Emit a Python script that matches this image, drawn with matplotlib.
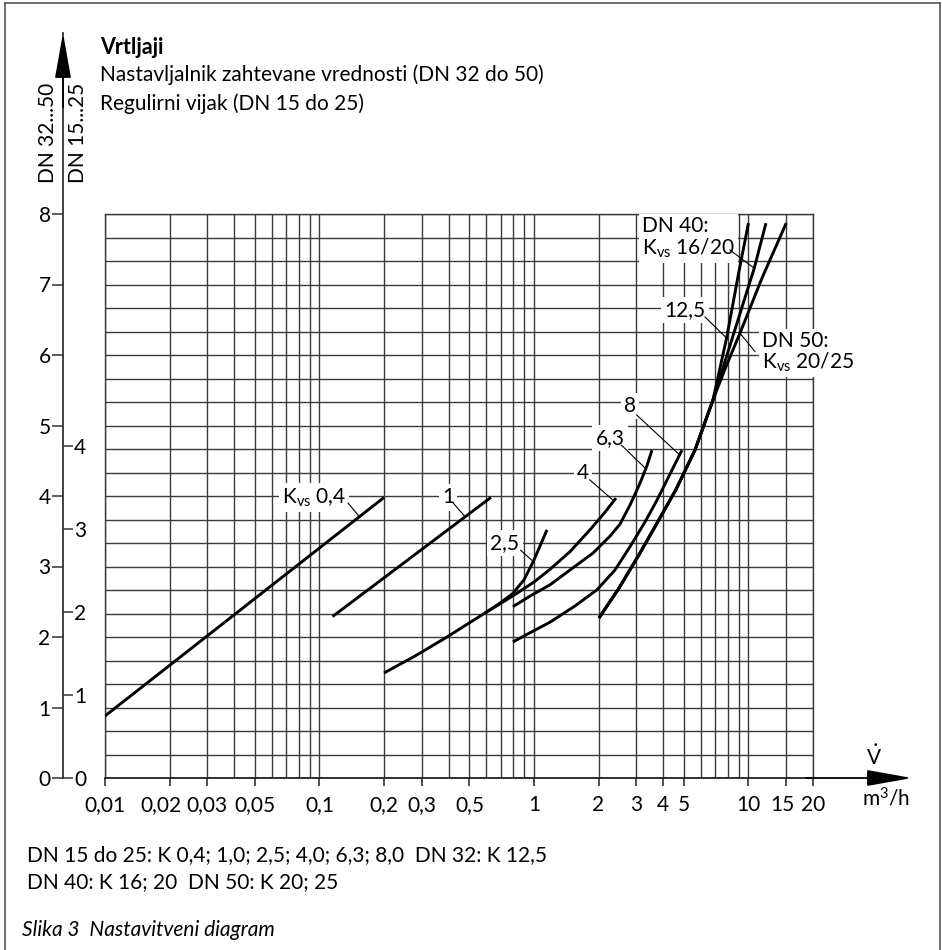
import matplotlib
matplotlib.use('Agg')
import matplotlib.pyplot as plt
from matplotlib.ticker import FixedLocator, NullFormatter
from matplotlib.lines import Line2D
from matplotlib.transforms import ScaledTranslation

plt.rcParams['font.family'] = ['Lato', 'DejaVu Sans']
plt.rcParams['mathtext.default'] = 'regular'

W, H = 942, 950
FS = 15

# x axis: volume flow in m3/h (log)
x_ticks = [0.01, 0.02, 0.03, 0.05, 0.1, 0.2, 0.3, 0.5, 1, 2, 3, 4, 5, 10, 15, 20]
x_ticklabels = ['0,01', '0,02', '0,03', '0,05', '0,1', '0,2', '0,3', '0,5',
                '1', '2', '3', '4', '5', '10', '15', '20']
# left scale DN 32...50 and the DN 15...25 scale next to it
y_ticks = [0, 1, 2, 3, 4, 5, 6, 7, 8]
dn15_ticks = [0, 1.18, 2.35, 3.53, 4.71]
dn15_labels = ['0', '1', '2', '3', '4']

# curves (flow, turns)
q_04 = [0.01, 0.2]
h_04 = [0.88, 3.98]
q_1 = [0.115, 0.63]
h_1 = [2.29, 3.98]
q_25 = [0.2, 0.279, 0.393, 0.591, 0.694, 0.798, 0.898, 0.989, 1.067, 1.15]
h_25 = [1.49, 1.73, 2.0, 2.34, 2.48, 2.62, 2.81, 3.06, 3.29, 3.52]
q_4 = [0.591, 0.694, 0.833, 1.011, 1.188, 1.472, 1.824, 2.143, 2.412]
h_4 = [2.34, 2.47, 2.62, 2.79, 2.96, 3.21, 3.52, 3.77, 3.97]
q_63 = [0.798, 0.958, 1.188, 1.472, 1.884, 2.262, 2.517, 2.803, 3.12, 3.365, 3.549]
h_63 = [2.43, 2.58, 2.74, 2.95, 3.19, 3.43, 3.60, 3.87, 4.18, 4.43, 4.65]
q_8 = [0.798, 0.958, 1.188, 1.553, 1.967, 2.386, 2.803, 3.292, 3.745, 4.305, 4.898]
h_8 = [1.93, 2.06, 2.21, 2.44, 2.67, 2.95, 3.28, 3.63, 3.94, 4.31, 4.65]
# DN 32/40/50 share the lower branch
q_low = [2.009, 2.464, 3.12, 3.87, 4.59, 5.63, 6.83]
h_low = [2.27, 2.67, 3.19, 3.69, 4.09, 4.65, 5.36]
q_125 = [7.91, 9.0, 10.0]
h_125 = [6.24, 7.16, 7.87]
q_1620 = [8.41, 10.64, 12.07]
h_1620 = [6.24, 7.23, 7.87]
q_2025 = [7.75, 9.13, 11.6, 15.0]
h_2025 = [5.79, 6.31, 7.10, 7.87]

curves = [(q_04, h_04), (q_1, h_1), (q_25, h_25), (q_4, h_4), (q_63, h_63), (q_8, h_8),
          (q_low + q_125, h_low + h_125), (q_low + q_1620, h_low + h_1620),
          (q_low + q_2025, h_low + h_2025)]

# labels: text, position, alignment, leader start, leader end
labels = [
    ('K$_{vs}$ 0,4', (0.133, 3.98), 'right', (0.136, 3.90), (0.152, 3.72)),
    ('1', (0.397, 3.98), 'center', (0.4205, 3.90), (0.473, 3.72)),
    ('2,5', (0.732, 3.33), 'center', (0.867, 3.23), (0.976, 3.09)),
    ('4', (1.69, 4.33), 'center', (1.82, 4.23), (2.34, 3.94)),
    ('6,3', (2.26, 4.82), 'center', (2.56, 4.72), (3.29, 4.40)),
    ('8', (2.80, 5.28), 'center', (3.01, 5.15), (4.79, 4.58)),
    ('12,5', (5.06, 6.64), 'center', (6.27, 6.54), (7.91, 6.24)),
    ('DN 40:\nK$_{vs}$ 16/20', (3.19, 7.66), 'left', (8.20, 7.49), (10.64, 7.23)),
    ('DN 50:\nK$_{vs}$ 20/25', (11.56, 6.04), 'left', (10.72, 6.05), (9.13, 6.31)),
]

x_grid = [m * 10.0 ** e for e in (-2, -1, 0) for m in range(1, 10)] + [10, 15, 20]
y_grid = [k / 3 for k in range(25)]

fig = plt.figure(figsize=(W / 100, H / 100), dpi=100)

def fx(px):
    return px / W

def fy(py):
    return 1 - py / H

gc = '#3a3a3a'
ax = fig.add_axes([fx(105), fy(778), fx(813) - fx(105), fy(214) - fy(778)])
ax.set_xscale('log')
ax.set_xlim(0.01, 20)
ax.set_ylim(0, 8)
ax.set_xticks(x_ticks)
ax.set_xticklabels(x_ticklabels)
ax.xaxis.set_minor_locator(FixedLocator(x_grid))
ax.xaxis.set_minor_formatter(NullFormatter())
ax.set_yticks(y_grid)
ax.tick_params(axis='y', which='both', length=0, labelleft=False)
ax.tick_params(axis='x', which='major', direction='out', length=6, width=1.1,
               color='#222222', pad=6, labelsize=FS)
ax.tick_params(axis='x', which='minor', length=0)
ax.grid(True, which='both', color=gc, lw=1.0)
ax.set_axisbelow(True)
for s in ['left', 'top', 'right']:
    ax.spines[s].set_color(gc)
    ax.spines[s].set_linewidth(1.0)
ax.spines['bottom'].set_color('#222222')
ax.spines['bottom'].set_linewidth(1.3)

# crowded tick labels nudged left, as in the print
nudge = {'0,02': -9, '15': -4}
for t, lab in zip(ax.xaxis.get_major_ticks(), x_ticklabels):
    if lab in nudge:
        t.label1.set_transform(t.label1.get_transform() +
                               ScaledTranslation(nudge[lab] / 100, 0, fig.dpi_scale_trans))

for q, h in curves:
    ax.plot(q, h, color='black', lw=2.1, zorder=4, solid_capstyle='butt',
            solid_joinstyle='round')

for txt, pos, ha, p0, p1 in labels:
    ax.text(pos[0], pos[1], txt, ha=ha, va='center', fontsize=FS, zorder=3,
            linespacing=1.0,
            bbox=dict(boxstyle='square,pad=0.15', fc='white', ec='none'))
    ax.plot([p0[0], p1[0]], [p0[1], p1[1]], color='black', lw=0.8, zorder=4)

# x axis arrow
ax.annotate('', xy=((912 - 105) / 708, 0), xytext=(0.99, 0), xycoords='axes fraction',
            arrowprops=dict(arrowstyle='-|>,head_length=2.8,head_width=0.5',
                            mutation_scale=10, color='black', lw=1.3,
                            shrinkA=0, shrinkB=0))

# main vertical axis (DN 32...50)
top = 33
axL = fig.add_axes([fx(63), fy(778), 1e-5, fy(top) - fy(778)])
axL.set_ylim(0, 8 * (778 - top) / (778 - 214))
axL.set_yticks(y_ticks)
axL.set_yticklabels([str(v) for v in y_ticks])
axL.tick_params(axis='y', direction='out', length=8, width=1.1, pad=1,
                labelsize=FS, color='#333333')
axL.set_xticks([])
for s in ['top', 'right', 'bottom']:
    axL.spines[s].set_visible(False)
axL.spines['left'].set_color('#333333')
axL.spines['left'].set_linewidth(1.3)
axL.patch.set_visible(False)
axL.annotate('', xy=(0, 1), xytext=(0, 0.9), xycoords='axes fraction',
             arrowprops=dict(arrowstyle='-|>,head_length=2.8,head_width=0.5',
                             mutation_scale=10, color='black', lw=1.3,
                             shrinkA=0, shrinkB=0))

# DN 15...25 scale on the right side of the same line
axR = fig.add_axes([fx(63), fy(778), 1e-5, fy(214) - fy(778)])
axR.set_ylim(0, 8)
axR.yaxis.tick_right()
axR.set_yticks(dn15_ticks)
axR.set_yticklabels(dn15_labels)
axR.tick_params(axis='y', direction='out', length=7, width=1.1, pad=1,
                labelsize=FS, color='#333333')
axR.set_xticks([])
for s in axR.spines.values():
    s.set_visible(False)
axR.patch.set_visible(False)

# texts
fig.text(fx(48), fy(183), 'DN 32...50', rotation=90, ha='center', va='bottom', fontsize=FS)
fig.text(fx(78), fy(183), 'DN 15...25', rotation=90, ha='center', va='bottom', fontsize=FS)
fig.text(fx(100), fy(54), 'Vrtljaji', fontsize=FS + 0.5, fontweight='bold', va='baseline')
fig.text(fx(100), fy(81), 'Nastavljalnik zahtevane vrednosti (DN 32 do 50)',
         fontsize=FS, va='baseline')
fig.text(fx(100), fy(110), 'Regulirni vijak (DN 15 do 25)', fontsize=FS, va='baseline')
fig.text(fx(874), fy(765), r'$\dot{V}$', fontsize=FS, ha='center', va='baseline')
fig.text(fx(862), fy(806), 'm$^3$/h', fontsize=FS, ha='left', va='baseline')
fig.text(fx(27), fy(861), 'DN 15 do 25: K 0,4; 1,0; 2,5; 4,0; 6,3; 8,0  DN 32: K 12,5',
         fontsize=FS, va='baseline')
fig.text(fx(27), fy(888), 'DN 40: K 16; 20  DN 50: K 20; 25', fontsize=FS, va='baseline')
fig.text(fx(22), fy(936), 'Slika 3  Nastavitveni diagram', fontsize=FS,
         style='italic', va='baseline')

# page frame
for xs, ys in [([5, 5], [3, 950]), ([5, 940], [3, 3]), ([940, 940], [3, 950])]:
    fig.add_artist(Line2D([fx(v) for v in xs], [fy(v) for v in ys],
                          color='#555555', lw=1.2))

fig.savefig('out.png', dpi=100)
